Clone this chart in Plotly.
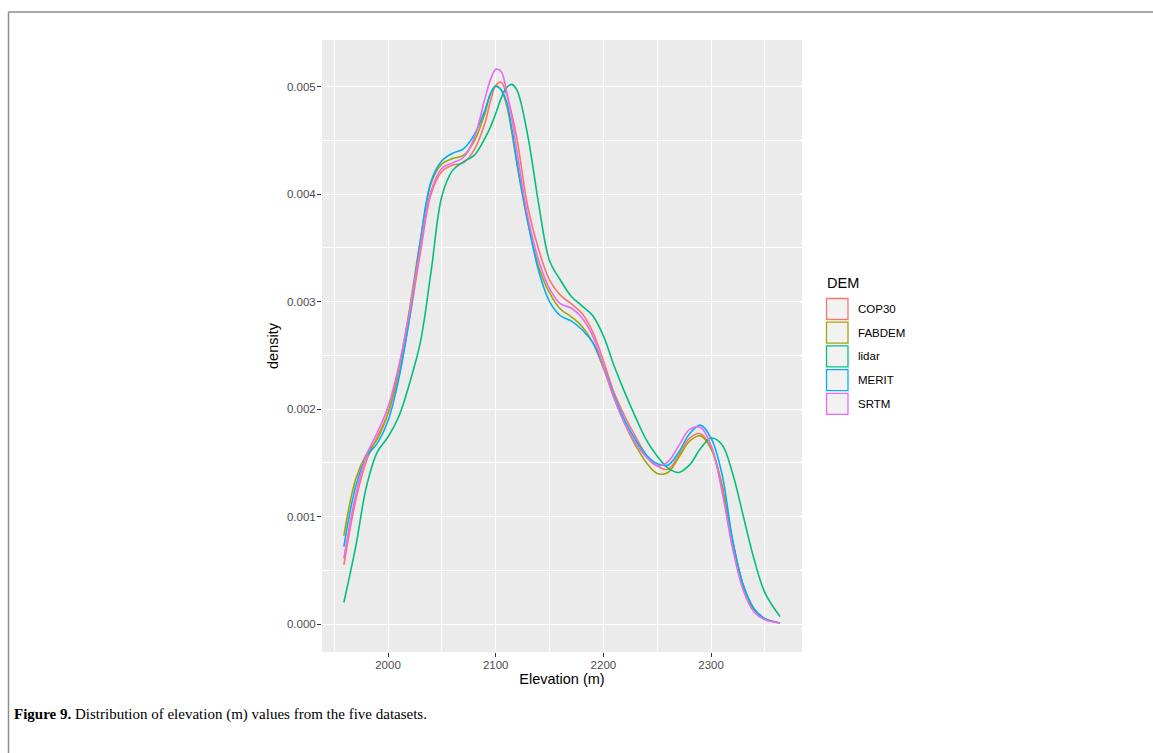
import plotly.graph_objects as go

# Kernel density of elevation for each DEM, sampled along a common elevation grid
elevation = [1959, 1970, 1980, 1990, 2000, 2010, 2020, 2030, 2040, 2050, 2060, 2070,
             2080, 2090, 2095, 2100, 2105, 2110, 2115, 2120, 2130, 2140, 2150, 2160,
             2170, 2180, 2190, 2200, 2210, 2220, 2230, 2240, 2250, 2260, 2270, 2280,
             2290, 2300, 2310, 2320, 2330, 2340, 2350, 2364]

cop30 = [0.00055, 0.00115, 0.00152, 0.00174, 0.00196, 0.00232, 0.00284, 0.00345, 0.00400,
         0.00421, 0.00427, 0.00429, 0.00441, 0.00466, 0.00486, 0.00501, 0.00504, 0.00493,
         0.00474, 0.00450, 0.00387, 0.00348, 0.00320, 0.00306, 0.00298, 0.00289, 0.00272,
         0.00245, 0.00215, 0.00193, 0.00174, 0.00157, 0.00147, 0.00144, 0.00157, 0.00173,
         0.00177, 0.00164, 0.00130, 0.00077, 0.00035, 0.00014, 0.00005, 0.00001]

fabdem = [0.00082, 0.00135, 0.00158, 0.00172, 0.00196, 0.00238, 0.00293, 0.00357, 0.00410,
          0.00428, 0.00433, 0.00436, 0.00449, 0.00475, 0.00493, 0.00501, 0.00497, 0.00483,
          0.00457, 0.00426, 0.00373, 0.00332, 0.00308, 0.00293, 0.00286, 0.00277, 0.00262,
          0.00238, 0.00210, 0.00186, 0.00166, 0.00150, 0.00140, 0.00141, 0.00155, 0.00170,
          0.00175, 0.00163, 0.00128, 0.00077, 0.00035, 0.00013, 0.00005, 0.00001]

lidar = [0.00020, 0.00072, 0.00128, 0.00160, 0.00174, 0.00193, 0.00224, 0.00262, 0.00328,
         0.00398, 0.00422, 0.00430, 0.00436, 0.00452, 0.00462, 0.00475, 0.00489, 0.00499,
         0.00502, 0.00496, 0.00453, 0.00390, 0.00338, 0.00320, 0.00305, 0.00296, 0.00287,
         0.00268, 0.00240, 0.00215, 0.00192, 0.00171, 0.00156, 0.00145, 0.00141, 0.00148,
         0.00163, 0.00173, 0.00167, 0.00140, 0.00100, 0.00060, 0.00029, 0.00007]

merit = [0.00072, 0.00128, 0.00156, 0.00168, 0.00189, 0.00228, 0.00285, 0.00356, 0.00412,
         0.00431, 0.00438, 0.00442, 0.00455, 0.00478, 0.00493, 0.00500, 0.00497, 0.00486,
         0.00460, 0.00428, 0.00373, 0.00328, 0.00300, 0.00287, 0.00282, 0.00274, 0.00262,
         0.00240, 0.00212, 0.00189, 0.00171, 0.00157, 0.00149, 0.00148, 0.00160, 0.00177,
         0.00185, 0.00173, 0.00140, 0.00078, 0.00036, 0.00014, 0.00005, 0.00001]

srtm = [0.00061, 0.00120, 0.00157, 0.00178, 0.00202, 0.00240, 0.00290, 0.00350, 0.00403,
        0.00424, 0.00429, 0.00434, 0.00452, 0.00489, 0.00506, 0.00516, 0.00514, 0.00496,
        0.00470, 0.00438, 0.00378, 0.00338, 0.00312, 0.00298, 0.00294, 0.00285, 0.00268,
        0.00240, 0.00210, 0.00186, 0.00168, 0.00155, 0.00147, 0.00151, 0.00166, 0.00181,
        0.00183, 0.00166, 0.00124, 0.00070, 0.00031, 0.00011, 0.00004, 0.00001]

dem_names = ["COP30", "FABDEM", "lidar", "MERIT", "SRTM"]
dem_values = [cop30, fabdem, lidar, merit, srtm]
dem_colors = ["#F8766D", "#A3A500", "#00BF7D", "#00B0F6", "#E76BF3"]

x_ticks = [2000, 2100, 2200, 2300]
y_ticks = [0.000, 0.001, 0.002, 0.003, 0.004, 0.005]

# Page geometry (pixels) of the plotting panel
W, H = 1153, 753
P_LEFT, P_RIGHT, P_TOP, P_BOTTOM = 322, 802, 40, 652
Y_PER_PX = 0.001 / 107.5          # density units per vertical pixel
Y_TOP = 0.005433


def px(x):
    return (x - P_LEFT) / (P_RIGHT - P_LEFT)


def py(y):
    return (P_BOTTOM - y) / (P_BOTTOM - P_TOP)


fig = go.Figure()
for name, vals, col in zip(dem_names, dem_values, dem_colors):
    fig.add_trace(go.Scatter(
        x=elevation, y=vals, mode="lines", name=name,
        line=dict(color=col, width=1.6, shape="spline", smoothing=1.0),
        showlegend=False, hoverinfo="skip",
    ))

sans = "Liberation Sans, Arial, sans-serif"
axis_common = dict(
    showgrid=True, gridcolor="white", gridwidth=1.1,
    zeroline=False, showline=False,
    ticks="outside", ticklen=4, tickwidth=1, tickcolor="#333333",
    tickfont=dict(family=sans, size=11.5, color="#4D4D4D"),
)

fig.update_layout(
    width=W, height=H,
    margin=dict(l=P_LEFT, r=W - P_RIGHT, t=P_TOP, b=H - P_BOTTOM, pad=0),
    paper_bgcolor="white", plot_bgcolor="#EBEBEB",
    font=dict(family=sans, color="black"),
    xaxis=dict(
        axis_common, range=[1938.7, 2384.4], tickvals=x_ticks,
        ticktext=[str(t) for t in x_ticks], ticklabelstandoff=-2,
        minor=dict(tickvals=[1950, 2050, 2150, 2250, 2350], showgrid=True,
                   gridcolor="white", gridwidth=0.55, ticks=""),
        title=dict(text="Elevation (m)", font=dict(family=sans, size=14.5, color="black"),
                   standoff=2),
    ),
    yaxis=dict(
        axis_common, range=[-(P_BOTTOM - 624) * Y_PER_PX, Y_TOP], tickvals=y_ticks,
        ticktext=[f"{t:.3f}" for t in y_ticks], ticklabelstandoff=-1,
        minor=dict(tickvals=[0.0005, 0.0015, 0.0025, 0.0035, 0.0045], showgrid=True,
                   gridcolor="white", gridwidth=0.55, ticks=""),
        title=dict(text="density", font=dict(family=sans, size=14.5, color="black"),
                   standoff=4),
    ),
)

shapes = []
annotations = []

# Legend: title, outlined keys and labels
annotations.append(dict(x=px(825), y=py(283), xref="paper", yref="paper", text="DEM",
                        showarrow=False, xanchor="left", yanchor="middle",
                        font=dict(family=sans, size=14.5, color="black")))
key_y0 = 309
for i, (name, col) in enumerate(zip(dem_names, dem_colors)):
    cy = key_y0 + i * 23.7
    shapes.append(dict(type="rect", xref="paper", yref="paper",
                       x0=px(826.5), x1=px(848), y0=py(cy - 10.5), y1=py(cy + 10.5),
                       line=dict(color=col, width=1.3), fillcolor="#F2F2F2", layer="above"))
    annotations.append(dict(x=px(856), y=py(cy), xref="paper", yref="paper", text=name,
                            showarrow=False, xanchor="left", yanchor="middle",
                            font=dict(family=sans, size=11.5, color="black")))

# Page frame: rule along the top and down the left side
shapes.append(dict(type="line", xref="paper", yref="paper",
                   x0=px(8.5), x1=px(W + 5), y0=py(12), y1=py(12),
                   line=dict(color="#8C8C8C", width=1.5)))
shapes.append(dict(type="line", xref="paper", yref="paper",
                   x0=px(8.5), x1=px(8.5), y0=py(12), y1=py(H + 5),
                   line=dict(color="#8C8C8C", width=1.5)))

# Figure caption
annotations.append(dict(x=px(12), y=py(714), xref="paper", yref="paper",
                        text="<b>Figure 9.</b> Distribution of elevation (m) values from the five datasets.",
                        showarrow=False, xanchor="left", yanchor="middle",
                        font=dict(family="Liberation Serif, Times New Roman, serif", size=15,
                                  color="black")))

fig.update_layout(shapes=shapes, annotations=annotations)
fig.write_html("out.html")
